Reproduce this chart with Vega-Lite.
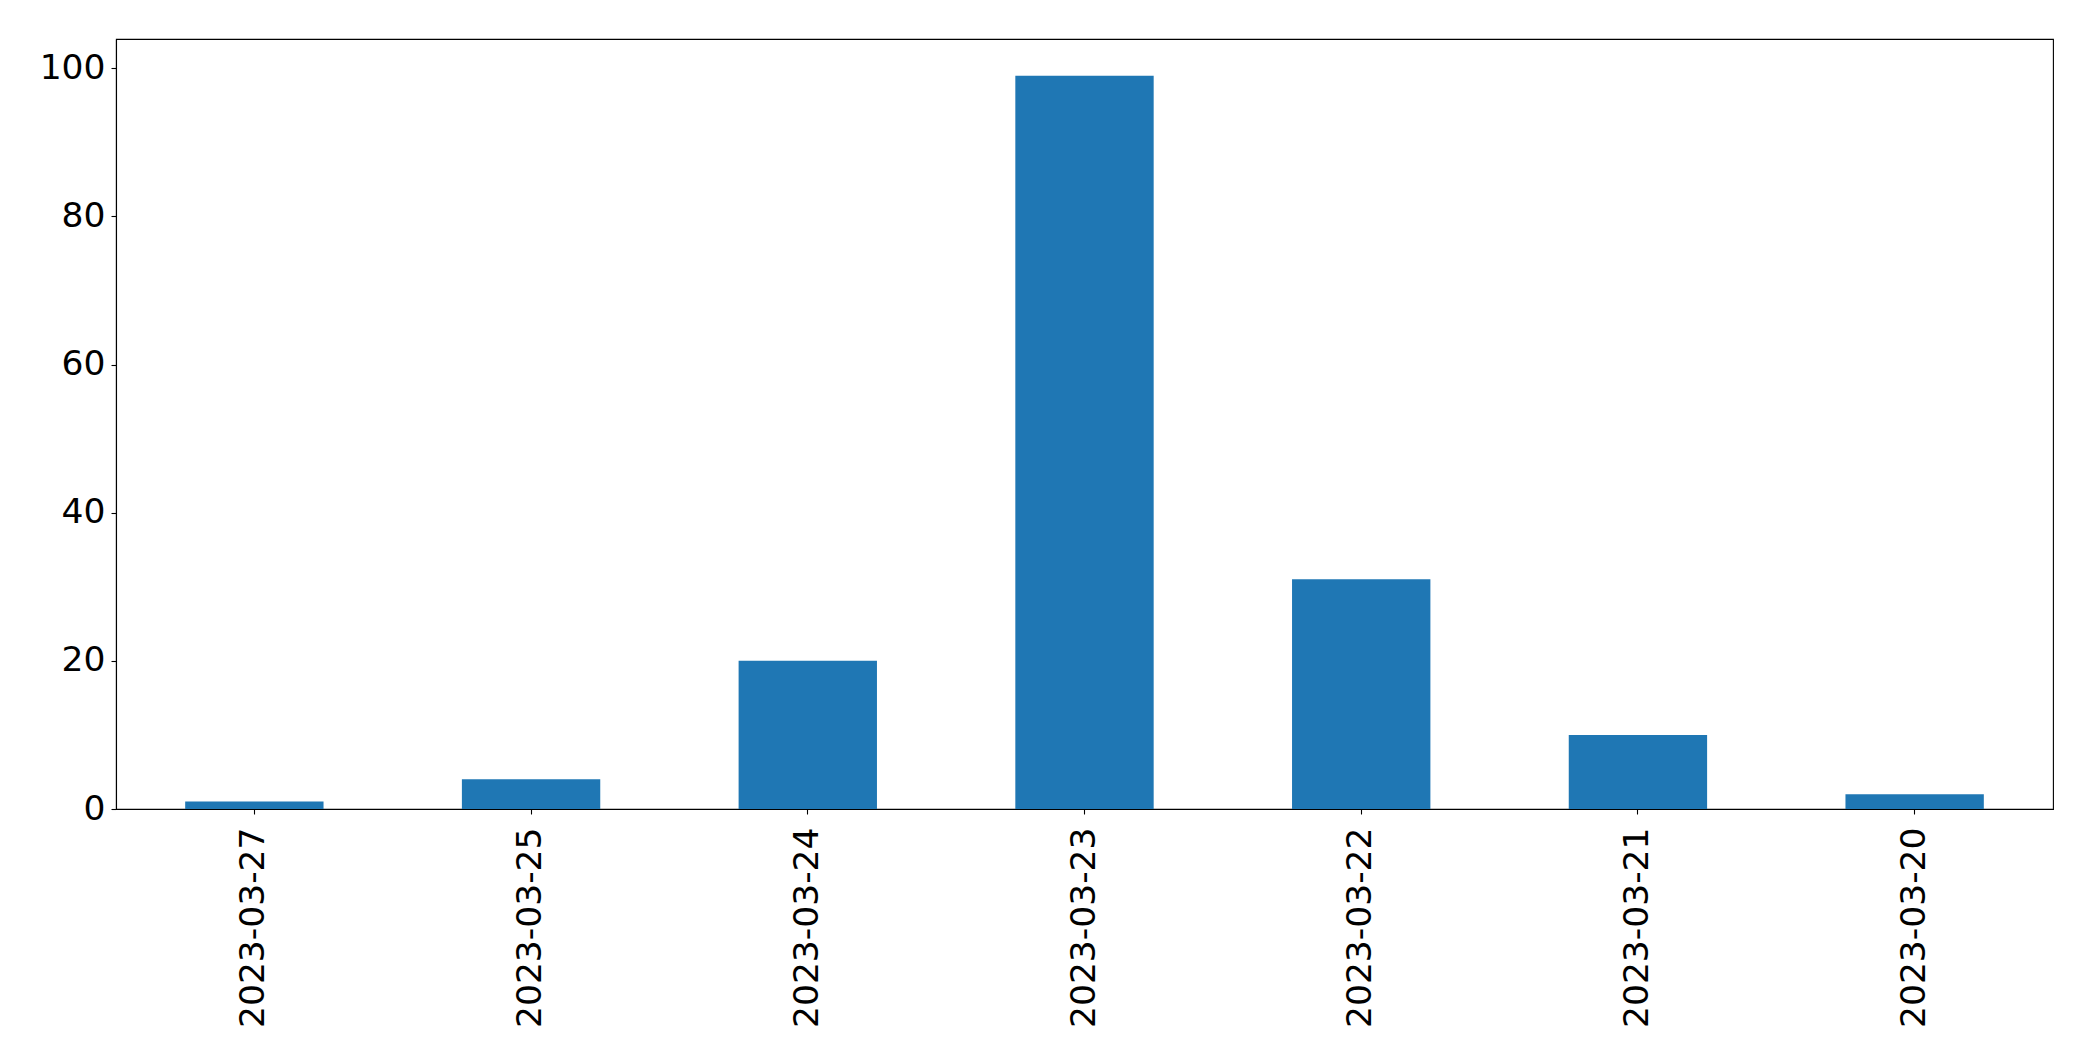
{
  "$schema": "https://vega.github.io/schema/vega-lite/v6.json",
  "width": 1937,
  "height": 770,
  "autosize": {"type": "none"},
  "padding": {"left": 116, "top": 39, "right": 40, "bottom": 252},
  "background": "white",
  "config": {
    "view": {"stroke": "black", "strokeWidth": 1.1},
    "axis": {
      "grid": false,
      "domainColor": "black",
      "domainWidth": 1.1,
      "tickColor": "black",
      "tickWidth": 1.1,
      "tickSize": 5,
      "labelFont": "DejaVu Sans",
      "labelFontSize": 34.5,
      "labelColor": "black",
      "labelLimit": 0,
      "titleFontSize": 0
    }
  },
  "data": {
    "values": [
      {"date": "2023-03-27", "count": 1},
      {"date": "2023-03-25", "count": 4},
      {"date": "2023-03-24", "count": 20},
      {"date": "2023-03-23", "count": 99},
      {"date": "2023-03-22", "count": 31},
      {"date": "2023-03-21", "count": 10},
      {"date": "2023-03-20", "count": 2}
    ]
  },
  "mark": {"type": "bar", "color": "#1f77b4"},
  "encoding": {
    "x": {
      "field": "date",
      "type": "nominal",
      "sort": null,
      "title": null,
      "scale": {"paddingInner": 0.5, "paddingOuter": 0.25},
      "axis": {"labelAngle": -90, "labelPadding": 13, "labelAlign": "right", "labelBaseline": "middle"}
    },
    "y": {
      "field": "count",
      "type": "quantitative",
      "title": null,
      "scale": {"domain": [0, 103.95], "nice": false, "zero": true},
      "axis": {"values": [0, 20, 40, 60, 80, 100], "labelPadding": 6}
    }
  }
}
